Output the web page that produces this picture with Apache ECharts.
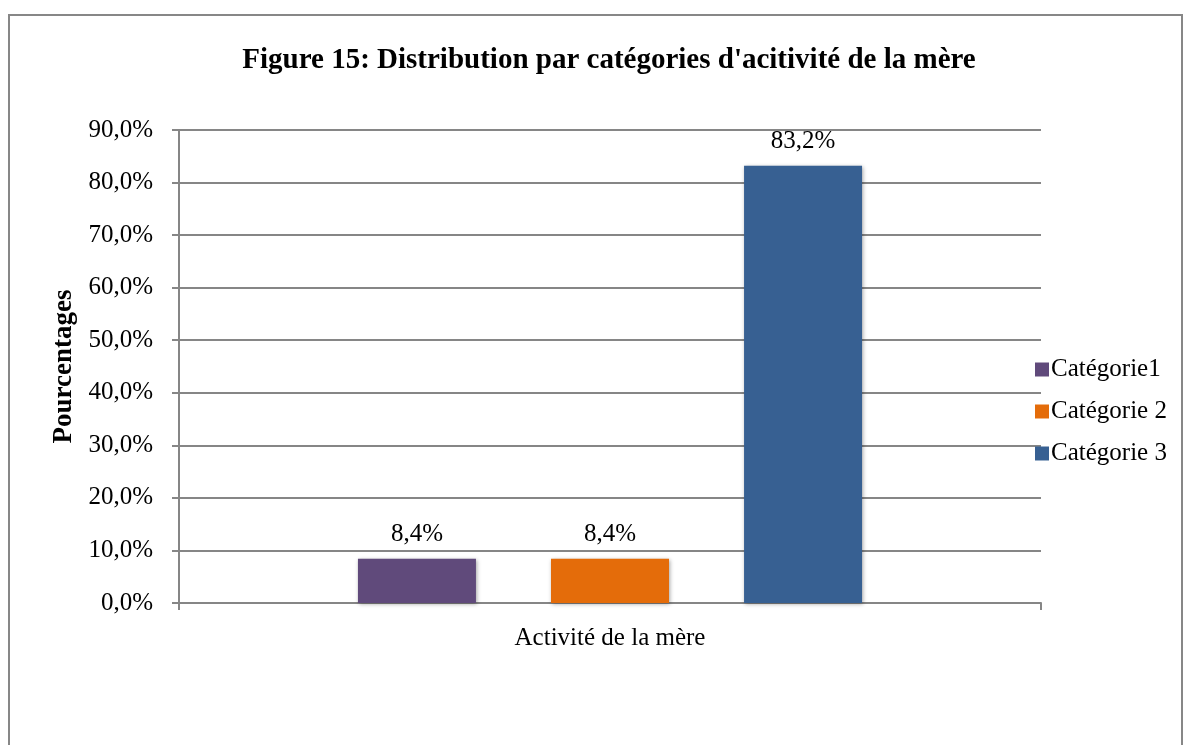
<!DOCTYPE html>
<html>
<head>
<meta charset="utf-8">
<script src="https://cdn.jsdelivr.net/npm/echarts@6/dist/echarts.min.js"></script>
<style>
  html, body { margin: 0; padding: 0; background: #fff; overflow: hidden; }
  #frame { position: absolute; left: 8px; top: 14px; width: 1171px; height: 800px; border: 2px solid #878787; }
  #main { position: absolute; left: 0; top: 0; width: 1189px; height: 745px; }
</style>
</head>
<body>
<div id="frame"></div>
<div id="main"></div>
<script>
// données
var categories = ['Activité de la mère']
var seriesNames = ['Catégorie1', 'Catégorie 2', 'Catégorie 3']
var seriesValues = [[8.4], [8.4], [83.2]]
var seriesColors = ['#604A7B', '#E46C0A', '#376092']

var font = '"Liberation Serif", "DejaVu Serif", serif'

function pct(v, digits) {
  return v.toFixed(digits).replace('.', ',') + '%'
}

var myChart = echarts.init(document.getElementById('main'))

var series = seriesNames.map(function(name, i) {
  return {
    name: name,
    type: 'bar',
    data: seriesValues[i],
    barWidth: 118,
    barGap: '63.6%',
    itemStyle: {
      color: seriesColors[i],
      shadowColor: 'rgba(0,0,0,0.35)',
      shadowBlur: 4,
      shadowOffsetX: 1,
      shadowOffsetY: 1
    },
    label: {
      show: true,
      position: 'top',
      distance: 12,
      fontFamily: font,
      fontSize: 25,
      color: '#000',
      formatter: function(p) { return pct(p.value, 1) }
    }
  }
})

var option = {
  animation: false,
  textStyle: { fontFamily: font },
  title: {
    text: "Figure 15: Distribution par catégories d'acitivité de la mère",
    left: 604,
    textAlign: 'center',
    top: 41,
    textStyle: { fontFamily: font, fontSize: 29, fontWeight: 'bold', color: '#000' }
  },
  legend: {
    orient: 'vertical',
    left: 1030,
    top: 352,
    itemWidth: 14,
    itemHeight: 14,
    itemGap: 17,
    icon: 'rect',
    data: seriesNames,
    textStyle: { fontFamily: font, fontSize: 25, color: '#000', padding: [0, 0, 0, -3] }
  },
  grid: { left: 179, right: 148, top: 130, bottom: 142 },
  xAxis: {
    type: 'category',
    data: categories,
    axisLine: { lineStyle: { color: '#868686', width: 2 } },
    axisTick: { show: true, alignWithLabel: false, length: 7, lineStyle: { color: '#868686', width: 2 } },
    axisLabel: { show: false },
    name: categories[0],
    nameLocation: 'middle',
    nameGap: 23,
    nameTextStyle: { fontFamily: font, fontSize: 25, color: '#000' }
  },
  yAxis: {
    type: 'value',
    min: 0,
    max: 90,
    interval: 10,
    name: 'Pourcentages',
    nameLocation: 'middle',
    nameGap: 100,
    nameTextStyle: { fontFamily: font, fontSize: 27, fontWeight: 'bold', color: '#000' },
    axisLine: { show: true, lineStyle: { color: '#868686', width: 2 } },
    axisTick: { show: true, length: 7, lineStyle: { color: '#868686', width: 2 } },
    axisLabel: {
      margin: 26,
      fontFamily: font,
      fontSize: 25,
      color: '#000',
      formatter: function(v) { return pct(v, 1) }
    },
    splitLine: { lineStyle: { color: '#868686', width: 2 } }
  },
  series: series
}

myChart.setOption(option)
</script>
</body>
</html>
